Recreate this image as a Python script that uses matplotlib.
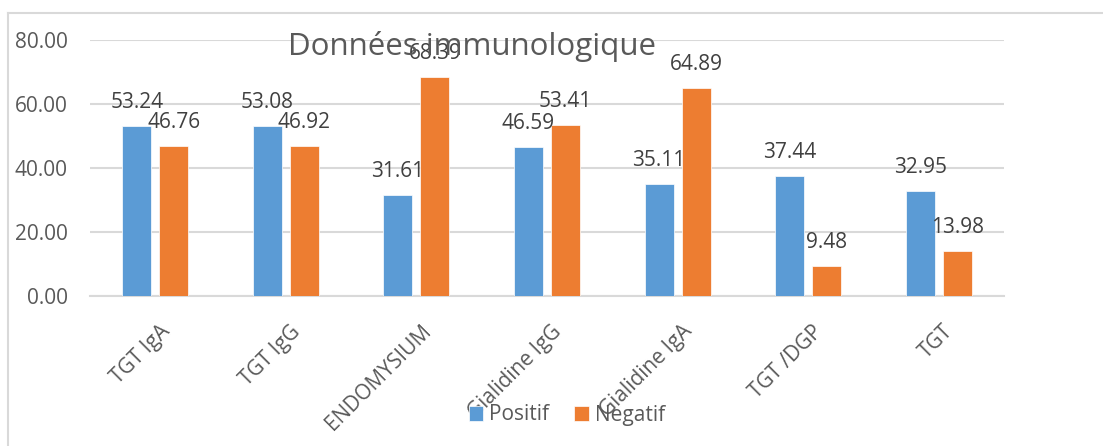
import matplotlib
matplotlib.use("Agg")
import matplotlib.pyplot as plt
import matplotlib.transforms as mtransforms
from matplotlib.lines import Line2D
import numpy as np

# Données du graphique
categories = ["TGT IgA", "TGT IgG", "ENDOMYSIUM", "Gialidine IgG",
              "Gialidine IgA", "TGT /DGP", "TGT"]
positif = [53.24, 53.08, 31.61, 46.59, 35.11, 37.44, 32.95]
negatif = [46.76, 46.92, 68.39, 53.41, 64.89, 9.48, 13.98]
yticks = [0, 20, 40, 60, 80]

W, H = 1103, 446
plt.rcParams['font.family'] = ['Open Sans', 'DejaVu Sans']

fig = plt.figure(figsize=(W / 100, H / 100), dpi=100)
ax = fig.add_axes([90 / W, 1 - 296 / H, (1004 - 90) / W, (296 - 40) / H])

x = np.arange(len(categories))
bw = 0.222
off = 0.142
b1 = ax.bar(x - off, positif, bw, color="#5B9BD5", edgecolor="white", linewidth=0.5, label="Positif", zorder=3)
b2 = ax.bar(x + off, negatif, bw, color="#ED7D31", edgecolor="white", linewidth=0.5, label="Negatif", zorder=3)

# étiquettes de données
for bars, vals in ((b1, positif), (b2, negatif)):
    for rect, v in zip(bars, vals):
        ax.annotate(f"{v:.2f}", (rect.get_x() + rect.get_width() / 2, v),
                    xytext=(0, 13), textcoords="offset points",
                    ha="center", va="baseline", fontsize=15, color="#404040", zorder=4)

ax.set_xlim(-0.5, len(categories) - 0.5)
ax.set_ylim(0, 80)
ax.set_yticks(yticks)
ax.set_yticklabels([f"{v:.2f}" for v in yticks])
ax.grid(axis="y", color="#d9d9d9", linewidth=1.5, zorder=0)
ax.set_axisbelow(True)
for s in ["top", "right", "left"]:
    ax.spines[s].set_visible(False)
ax.spines["bottom"].set_color("#d9d9d9")
ax.spines["bottom"].set_linewidth(1.5)
ax.tick_params(axis="y", length=0, pad=16, labelsize=15, labelcolor="#595959")
ax.tick_params(axis="x", length=0, pad=18, labelsize=15, labelcolor="#595959")

ax.set_xticks(x)
ax.set_xticklabels(categories, rotation=45, ha="right", va="top", rotation_mode="anchor")
shift = mtransforms.ScaledTranslation(4 / 100, 0, fig.dpi_scale_trans)
for lab in ax.get_xticklabels():
    lab.set_transform(lab.get_transform() + shift)

# titre
fig.text(472 / W, 1 - 55 / H, "Données immunologique", ha="center", va="baseline",
         fontsize=22.5, color="#595959")

# légende
fig.legend(handles=[b1, b2], loc="center", bbox_to_anchor=(567 / W, 1 - 415 / H),
           ncol=2, frameon=False, fontsize=15, handlelength=0.7, handleheight=0.7,
           handletextpad=0.3, columnspacing=1.2, labelcolor="#595959")

# cadre du graphique
fig.add_artist(Line2D([8 / W, 8 / W], [0, 1 - 13 / H], color="#d9d9d9", linewidth=1.5))
fig.add_artist(Line2D([8 / W, 1], [1 - 13 / H, 1 - 13 / H], color="#d9d9d9", linewidth=1.5))

fig.savefig("out.png", dpi=100)
